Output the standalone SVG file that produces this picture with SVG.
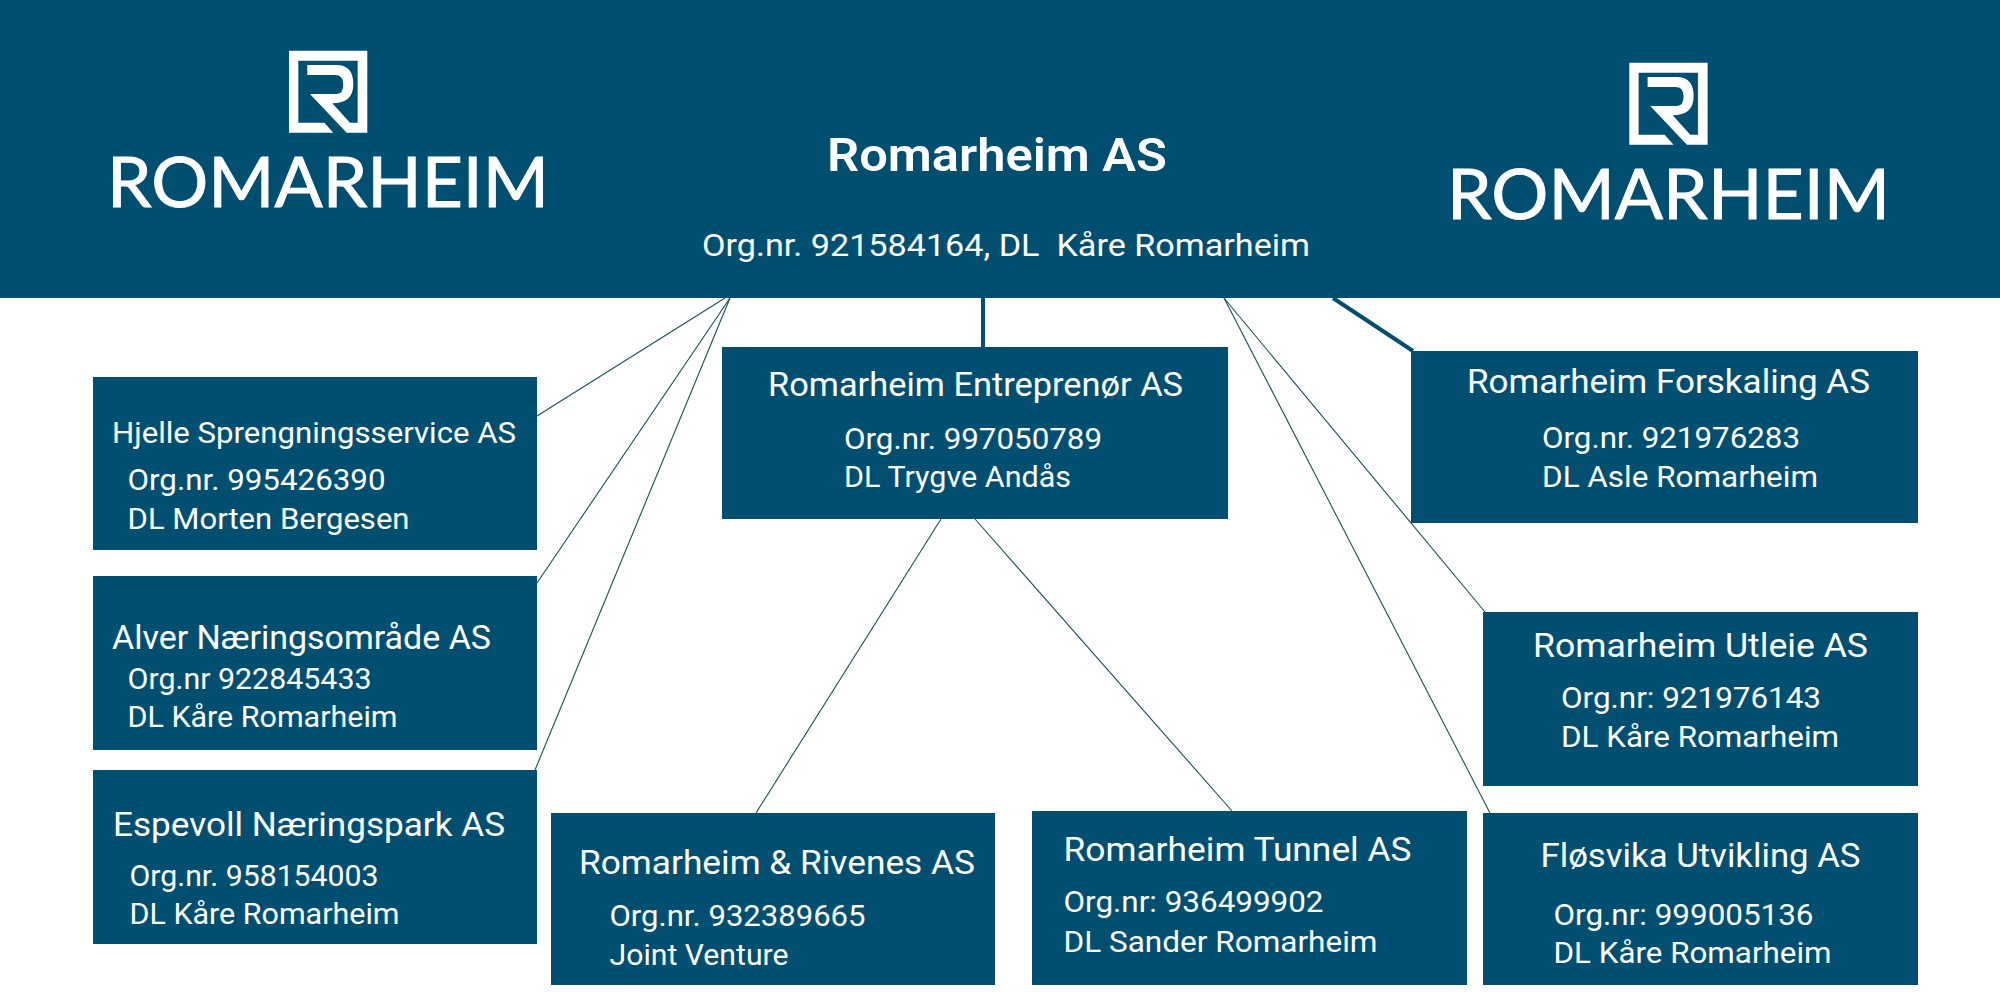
<svg xmlns="http://www.w3.org/2000/svg" width="2000" height="1000" viewBox="0 0 2000 1000">
<style>
.bg{fill:#ffffff}
.box{fill:#004f71}
text{fill:#ffffff;font-family:"Roboto","Noto Sans",sans-serif;white-space:pre}
.h{font-size:33px}
.hs{font-size:30px}
.b{font-size:30px}
.title{font-size:47px;font-weight:600}
.sub{font-size:32px}
.logo{font-family:"Lato","Noto Sans",sans-serif;font-size:69px;font-weight:400;stroke:#ffffff;stroke-width:0.9}
.thin{stroke:#1c4f58;stroke-width:1.1;fill:none}
.thick{stroke:#004f71;stroke-width:4;fill:none}
</style>
<defs>
<path id="mark" fill="#ffffff" d="M627 92H862V338H800L690 222H770Q790 222 790 193Q790 165 765 165H682V135H770Q820 135 820 193Q820 250 757 250L810 308H833V122H655V308H733L760 338H627Z"/>
</defs>
<rect class="bg" width="2000" height="1000"/>
<g id="connectors">
<line class="thin" x1="537" y1="416" x2="725" y2="298"/>
<line class="thin" x1="537" y1="583" x2="730" y2="298"/>
<line class="thin" x1="535" y1="770" x2="730" y2="298"/>
<line class="thick" x1="983" y1="298" x2="983" y2="347"/>
<line class="thick" x1="1333" y1="298" x2="1413" y2="351"/>
<line class="thin" x1="1224" y1="298" x2="1485" y2="612"/>
<line class="thin" x1="1224" y1="298" x2="1490" y2="813"/>
<line class="thin" x1="941" y1="519" x2="756" y2="813"/>
<line class="thin" x1="975" y1="519" x2="1232" y2="811"/>
</g>
<g id="romarheim-as">
<rect class="box" x="0" y="0" width="2000" height="298"/>
<use href="#mark" transform="translate(80 20) scale(0.3333)"/>
<text class="logo" x="107" y="207" textLength="442" lengthAdjust="spacingAndGlyphs">ROMARHEIM</text>
<use href="#mark" transform="translate(1420.3 32) scale(0.3333)"/>
<text class="logo" x="1447" y="219" textLength="443" lengthAdjust="spacingAndGlyphs">ROMARHEIM</text>
<text class="title" x="827" y="171" textLength="340" lengthAdjust="spacingAndGlyphs">Romarheim AS</text>
<text class="sub" x="702" y="256" textLength="608" lengthAdjust="spacingAndGlyphs">Org.nr. 921584164, DL  Kåre Romarheim</text>
</g>
<g id="hjelle">
<rect class="box" x="93" y="377" width="444" height="173"/>
<text class="hs" x="112" y="443" textLength="404" lengthAdjust="spacingAndGlyphs">Hjelle Sprengningsservice AS</text>
<text class="b" x="127.500" y="490" textLength="258" lengthAdjust="spacingAndGlyphs">Org.nr. 995426390</text>
<text class="b" x="127.500" y="529" textLength="282" lengthAdjust="spacingAndGlyphs">DL Morten Bergesen</text>
</g>
<g id="alver">
<rect class="box" x="93" y="576" width="444" height="174"/>
<text class="h" x="112" y="649" textLength="379" lengthAdjust="spacingAndGlyphs">Alver Næringsområde AS</text>
<text class="b" x="127.500" y="689" textLength="244" lengthAdjust="spacingAndGlyphs">Org.nr 922845433</text>
<text class="b" x="127.500" y="727" textLength="270" lengthAdjust="spacingAndGlyphs">DL Kåre Romarheim</text>
</g>
<g id="espevoll">
<rect class="box" x="93" y="770" width="444" height="174"/>
<text class="h" x="113" y="836" textLength="392" lengthAdjust="spacingAndGlyphs">Espevoll Næringspark AS</text>
<text class="b" x="129.500" y="886" textLength="249" lengthAdjust="spacingAndGlyphs">Org.nr. 958154003</text>
<text class="b" x="129.500" y="924" textLength="270" lengthAdjust="spacingAndGlyphs">DL Kåre Romarheim</text>
</g>
<g id="entreprenor">
<rect class="box" x="722" y="347" width="506" height="172"/>
<text class="h" x="768" y="396" textLength="415" lengthAdjust="spacingAndGlyphs">Romarheim Entreprenør AS</text>
<text class="b" x="844" y="449" textLength="258" lengthAdjust="spacingAndGlyphs">Org.nr. 997050789</text>
<text class="b" x="844" y="487" textLength="227" lengthAdjust="spacingAndGlyphs">DL Trygve Andås</text>
</g>
<g id="rivenes">
<rect class="box" x="551" y="813" width="444" height="172"/>
<text class="h" x="579" y="874" textLength="396" lengthAdjust="spacingAndGlyphs">Romarheim &amp; Rivenes AS</text>
<text class="b" x="609.500" y="926" textLength="256" lengthAdjust="spacingAndGlyphs">Org.nr. 932389665</text>
<text class="b" x="609.500" y="965" textLength="179" lengthAdjust="spacingAndGlyphs">Joint Venture</text>
</g>
<g id="tunnel">
<rect class="box" x="1032" y="811" width="435" height="174"/>
<text class="h" x="1063.500" y="861" textLength="348" lengthAdjust="spacingAndGlyphs">Romarheim Tunnel AS</text>
<text class="b" x="1063.500" y="912" textLength="260" lengthAdjust="spacingAndGlyphs">Org.nr: 936499902</text>
<text class="b" x="1063.500" y="952" textLength="314" lengthAdjust="spacingAndGlyphs">DL Sander Romarheim</text>
</g>
<g id="flosvika">
<rect class="box" x="1483" y="813" width="435" height="172"/>
<text class="h" x="1540.500" y="867" textLength="320" lengthAdjust="spacingAndGlyphs">Fløsvika Utvikling AS</text>
<text class="b" x="1553.500" y="925" textLength="260" lengthAdjust="spacingAndGlyphs">Org.nr: 999005136</text>
<text class="b" x="1553.500" y="963" textLength="278" lengthAdjust="spacingAndGlyphs">DL Kåre Romarheim</text>
</g>
<g id="utleie">
<rect class="box" x="1483" y="612" width="435" height="174"/>
<text class="h" x="1533" y="657" textLength="335" lengthAdjust="spacingAndGlyphs">Romarheim Utleie AS</text>
<text class="b" x="1561" y="708" textLength="260" lengthAdjust="spacingAndGlyphs">Org.nr: 921976143</text>
<text class="b" x="1561" y="747" textLength="278" lengthAdjust="spacingAndGlyphs">DL Kåre Romarheim</text>
</g>
<g id="forskaling">
<rect class="box" x="1411" y="351" width="507" height="172"/>
<text class="h" x="1467" y="393" textLength="403" lengthAdjust="spacingAndGlyphs">Romarheim Forskaling AS</text>
<text class="b" x="1542" y="448" textLength="258" lengthAdjust="spacingAndGlyphs">Org.nr. 921976283</text>
<text class="b" x="1542" y="487" textLength="276" lengthAdjust="spacingAndGlyphs">DL Asle Romarheim</text>
</g>
</svg>
